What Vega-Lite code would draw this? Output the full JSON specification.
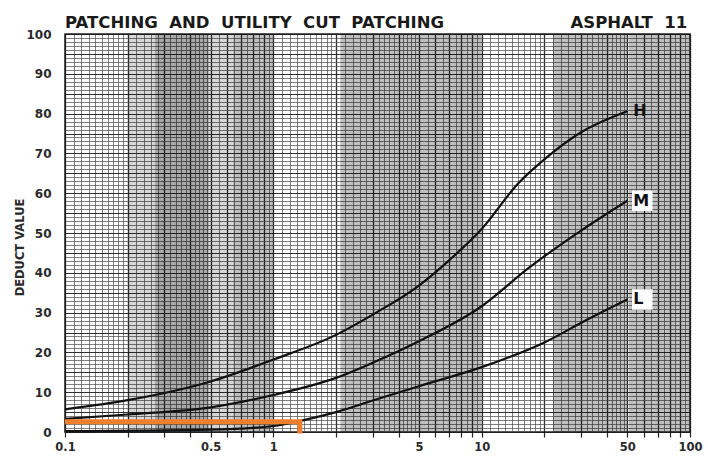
{
  "$schema": "https://vega.github.io/schema/vega-lite/v6.json",
  "autosize": {"type": "none"},
  "padding": {"left": 65, "top": 34, "right": 18, "bottom": 24},
  "width": 625,
  "height": 398,
  "background": "white",
  "title": {
    "text": "PATCHING\u00a0 AND\u00a0 UTILITY\u00a0 CUT\u00a0 PATCHING\u00a0\u00a0\u00a0\u00a0\u00a0\u00a0\u00a0\u00a0\u00a0\u00a0\u00a0\u00a0\u00a0\u00a0\u00a0\u00a0\u00a0\u00a0\u00a0\u00a0\u00a0\u00a0ASPHALT\u00a0 11",
    "anchor": "start",
    "frame": "group",
    "font": "DejaVu Sans",
    "fontSize": 16.5,
    "fontWeight": "bold",
    "color": "#1a1a1a",
    "baseline": "alphabetic",
    "offset": 7,
    "dy": 23
  },
  "datasets": {
    "curves": [
      {"series": "H", "x": 0.1, "y": 5.7},
      {"series": "H", "x": 0.2, "y": 8.0},
      {"series": "H", "x": 0.5, "y": 12.7},
      {"series": "H", "x": 1, "y": 18.2},
      {"series": "H", "x": 2, "y": 24.4},
      {"series": "H", "x": 3, "y": 29.5},
      {"series": "H", "x": 5, "y": 36.8},
      {"series": "H", "x": 7, "y": 43.2},
      {"series": "H", "x": 10, "y": 51.0},
      {"series": "H", "x": 15, "y": 62.5},
      {"series": "H", "x": 20, "y": 68.5},
      {"series": "H", "x": 30, "y": 75.3},
      {"series": "H", "x": 50, "y": 80.6},
      {"series": "M", "x": 0.1, "y": 3.3},
      {"series": "M", "x": 0.2, "y": 4.4},
      {"series": "M", "x": 0.5, "y": 6.2},
      {"series": "M", "x": 1, "y": 9.3},
      {"series": "M", "x": 2, "y": 13.6},
      {"series": "M", "x": 3, "y": 17.4},
      {"series": "M", "x": 5, "y": 22.8},
      {"series": "M", "x": 10, "y": 31.6},
      {"series": "M", "x": 17, "y": 41.4},
      {"series": "M", "x": 30, "y": 50.6},
      {"series": "M", "x": 50, "y": 58.1},
      {"series": "L", "x": 0.1, "y": 0.2},
      {"series": "L", "x": 0.5, "y": 0.6},
      {"series": "L", "x": 1, "y": 1.5},
      {"series": "L", "x": 1.4, "y": 3.0},
      {"series": "L", "x": 2, "y": 5.0},
      {"series": "L", "x": 3, "y": 7.9},
      {"series": "L", "x": 5, "y": 11.5},
      {"series": "L", "x": 10, "y": 16.3},
      {"series": "L", "x": 20, "y": 22.5},
      {"series": "L", "x": 32, "y": 28.2},
      {"series": "L", "x": 50, "y": 33.3}
    ],
    "bands": [
      {"x": 0.2, "x_end": 0.27, "tone": "light"},
      {"x": 0.27, "x_end": 0.49, "tone": "dark"},
      {"x": 0.49, "x_end": 0.64, "tone": "light"},
      {"x": 0.64, "x_end": 1.0, "tone": "gray"},
      {"x": 2.1, "x_end": 10, "tone": "gray"},
      {"x": 22, "x_end": 50, "tone": "gray"},
      {"x": 51, "x_end": 100, "tone": "gray"}
    ],
    "marker": [
      {"x": 0.1, "y": 2.6, "step": 0},
      {"x": 1.34, "y": 2.6, "step": 1},
      {"x": 1.34, "y": -0.4, "step": 2}
    ]
  },
  "layer": [
    {
      "data": {"name": "curves"},
      "mark": {"type": "line", "opacity": 0},
      "encoding": {
        "x": {
          "field": "x", "type": "quantitative",
          "scale": {"type": "log", "domain": [0.1, 100], "nice": false},
          "axis": {
            "title": null,
            "values": [0.1,0.11,0.12,0.13,0.14,0.15,0.16,0.17,0.18,0.19,0.2,0.22,0.24,0.26,0.28,0.3,0.32,0.34,0.36,0.38,0.4,0.42,0.44,0.46,0.48,0.5,0.55,0.6,0.65,0.7,0.75,0.8,0.85,0.9,0.95,1,1.1,1.2,1.3,1.4,1.5,1.6,1.7,1.8,1.9,2,2.2,2.4,2.6,2.8,3,3.2,3.4,3.6,3.8,4,4.2,4.4,4.6,4.8,5,5.5,6,6.5,7,7.5,8,8.5,9,9.5,10,11,12,13,14,15,16,17,18,19,20,22,24,26,28,30,32,34,36,38,40,42,44,46,48,50,55,60,65,70,75,80,85,90,95,100],
            "format": "~g",
            "labelExpr": "indexof([0.1,0.5,1,5,10,50,100], datum.value) >= 0 ? datum.label : ''",
            "labelOverlap": false,
            "labelFlush": false,
            "labelBound": false,
            "labelFont": "DejaVu Sans",
            "labelFontWeight": "bold",
            "labelFontSize": 11.5,
            "labelColor": "#2a2a2a",
            "labelPadding": 4,
            "domain": false,
            "tickSize": 5,
            "tickColor": "#222",
            "tickWidth": 1.2,
            "tickOpacity": {"condition": {"test": "abs(datum.value / pow(10, floor(log(datum.value) / LN10 + 1e-9)) - round(datum.value / pow(10, floor(log(datum.value) / LN10 + 1e-9)))) < 1e-6", "value": 1}, "value": 0},
            "grid": true,
            "gridColor": {"condition": {"test": "abs(datum.value / pow(10, floor(log(datum.value) / LN10 + 1e-9)) - round(datum.value / pow(10, floor(log(datum.value) / LN10 + 1e-9)))) < 1e-6", "value": "#1a1a1a"}, "value": "#4e4e4e"},
            "gridWidth": {"condition": {"test": "abs(datum.value / pow(10, floor(log(datum.value) / LN10 + 1e-9)) - round(datum.value / pow(10, floor(log(datum.value) / LN10 + 1e-9)))) < 1e-6", "value": 1.3}, "value": 0.8},
            "gridOpacity": 0.9
          }
        },
        "y": {
          "field": "y", "type": "quantitative",
          "scale": {"domain": [0, 100], "nice": false},
          "axis": {
            "title": "DEDUCT VALUE",
            "titleFont": "DejaVu Sans",
            "titleFontWeight": "bold",
            "titleFontSize": 11.5,
            "titleColor": "#2a2a2a",
            "titleX": -40,
            "titleY": 213,
            "tickCount": 100,
            "labelExpr": "datum.value % 10 == 0 ? datum.label : ''",
            "labelOverlap": false,
            "labelFont": "DejaVu Sans",
            "labelFontWeight": "bold",
            "labelFontSize": 12,
            "labelColor": "#2a2a2a",
            "labelPadding": 14,
            "ticks": false,
            "domain": false,
            "grid": true,
            "gridColor": {"condition": {"test": "datum.value % 5 == 0", "value": "#1a1a1a"}, "value": "#4e4e4e"},
            "gridWidth": {"condition": {"test": "datum.value % 5 == 0", "value": 1.1}, "value": 0.8},
            "gridOpacity": 0.9
          }
        },
        "detail": {"field": "series"}
      }
    },
    {
      "data": {"name": "bands"},
      "mark": {"type": "rect", "fill": "#000"},
      "encoding": {
        "x": {"field": "x", "type": "quantitative", "scale": {"type": "log", "domain": [0.1, 100], "nice": false}},
        "x2": {"field": "x_end"},
        "opacity": {"field": "tone", "type": "nominal", "scale": {"domain": ["light", "gray", "dark"], "range": [0.16, 0.34, 0.42]}, "legend": null}
      }
    },
    {
      "data": {"name": "curves"},
      "mark": {"type": "line", "interpolate": "monotone", "color": "#111", "strokeWidth": 2.2},
      "encoding": {
        "x": {"field": "x", "type": "quantitative", "scale": {"type": "log", "domain": [0.1, 100], "nice": false}},
        "y": {"field": "y", "type": "quantitative", "scale": {"domain": [0, 100], "nice": false}},
        "detail": {"field": "series"}
      }
    },
    {
      "data": {"name": "marker"},
      "mark": {"type": "line", "color": "#f07f2c", "strokeWidth": 5, "strokeJoin": "miter", "strokeCap": "butt", "clip": false},
      "encoding": {
        "x": {"field": "x", "type": "quantitative", "scale": {"type": "log", "domain": [0.1, 100], "nice": false}},
        "y": {"field": "y", "type": "quantitative", "scale": {"domain": [0, 100], "nice": false}},
        "order": {"field": "step"}
      }
    },
    {
      "data": {"name": "curves"},
      "transform": [{"filter": "datum.x == 50 && datum.series != 'H'"}],
      "mark": {"type": "point", "shape": "square", "filled": true, "color": "white", "opacity": 1, "size": 420, "xOffset": 15},
      "encoding": {
        "x": {"field": "x", "type": "quantitative", "scale": {"type": "log", "domain": [0.1, 100], "nice": false}},
        "y": {"field": "y", "type": "quantitative", "scale": {"domain": [0, 100], "nice": false}}
      }
    },
    {
      "data": {"name": "curves"},
      "transform": [{"filter": "datum.x == 50"}],
      "mark": {"type": "text", "align": "left", "baseline": "middle", "dx": 6, "font": "DejaVu Sans", "fontSize": 16, "fontWeight": "bold", "color": "#111"},
      "encoding": {
        "x": {"field": "x", "type": "quantitative", "scale": {"type": "log", "domain": [0.1, 100], "nice": false}},
        "y": {"field": "y", "type": "quantitative", "scale": {"domain": [0, 100], "nice": false}},
        "text": {"field": "series"}
      }
    }
  ],
  "config": {
    "view": {"stroke": "#222", "strokeWidth": 1.5},
    "font": "DejaVu Sans"
  }
}
